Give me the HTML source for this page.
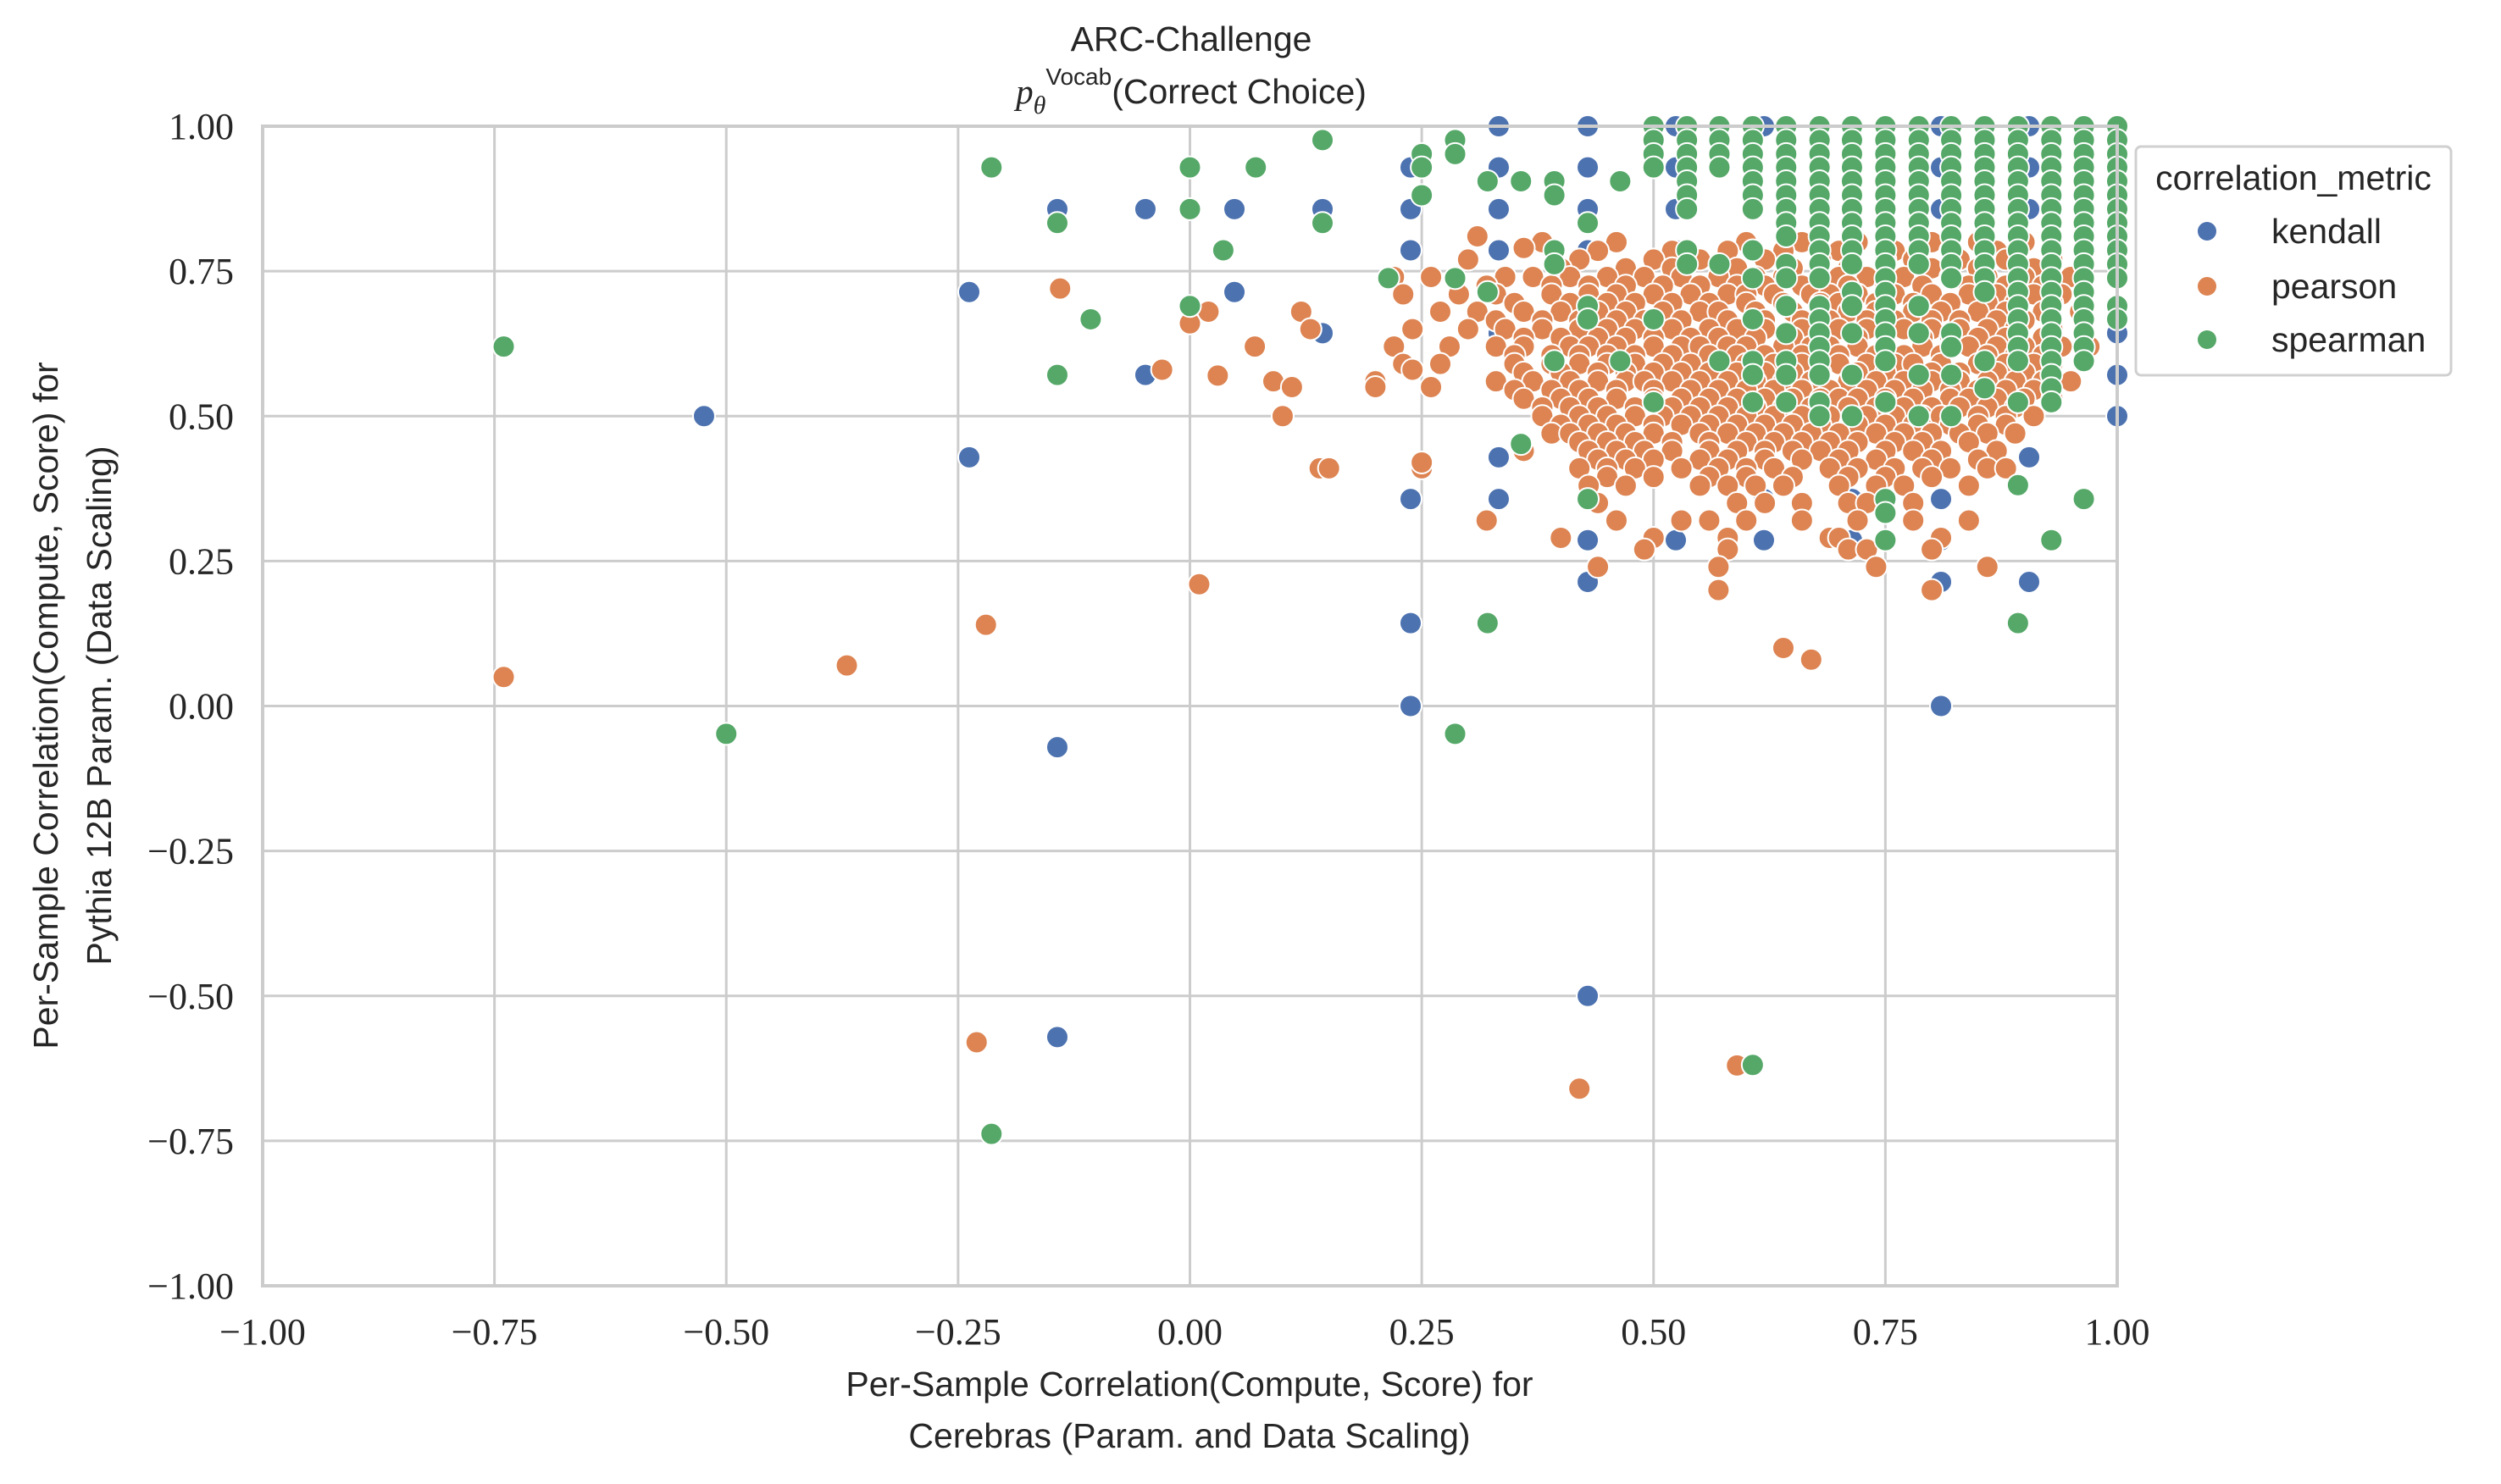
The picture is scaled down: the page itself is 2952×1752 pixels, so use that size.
<!DOCTYPE html>
<html><head><meta charset="utf-8">
<style>
html,body{margin:0;padding:0;background:#fff;}
svg{display:block;}
.tick{font-family:"Liberation Serif","DejaVu Serif",serif;font-size:44px;fill:#262626;}
.lab{font-family:"Liberation Sans","DejaVu Sans",sans-serif;font-size:41px;fill:#262626;}
</style></head>
<body>
<svg id="chart" width="2952" height="1752" viewBox="0 0 2952 1752" xmlns="http://www.w3.org/2000/svg">
<g id="grid"></g>
<g id="marks"></g>
<rect x="310" y="149" width="2189" height="1369" fill="none" stroke="#cccccc" stroke-width="4"/>
<g id="ticks"></g>
<text class="lab" x="1406" y="60" text-anchor="middle">ARC-Challenge</text>
<text class="lab" x="1406" y="122" text-anchor="middle"><tspan font-family="Liberation Serif,serif" font-style="italic">p</tspan><tspan font-family="Liberation Serif,serif" font-style="italic" font-size="30" dy="12">θ</tspan><tspan font-size="28" dy="-34">Vocab</tspan><tspan dy="22">(Correct Choice)</tspan></text>
<text class="lab" x="1404" y="1648" text-anchor="middle">Per-Sample Correlation(Compute, Score) for</text>
<text class="lab" x="1404" y="1709" text-anchor="middle">Cerebras (Param. and Data Scaling)</text>
<text class="lab" transform="translate(68,833) rotate(-90)" text-anchor="middle">Per-Sample Correlation(Compute, Score) for</text>
<text class="lab" transform="translate(131,833) rotate(-90)" text-anchor="middle">Pythia 12B Param. (Data Scaling)</text>
<g>
<rect x="2521" y="173" width="372" height="270" rx="6" fill="#fff" stroke="#d0d0d0" stroke-width="3"/>
<text class="lab" x="2707" y="224" text-anchor="middle">correlation_metric</text>
<circle cx="2605" cy="273" r="11" fill="#4c72b0"/>
<text class="lab" x="2681" y="287">kendall</text>
<circle cx="2605" cy="338" r="11" fill="#dd8452"/>
<text class="lab" x="2681" y="352">pearson</text>
<circle cx="2605" cy="401" r="11" fill="#55a868"/>
<text class="lab" x="2681" y="415">spearman</text>
</g>
</svg>
<script>
const xTicks=[-1,-0.75,-0.5,-0.25,0,0.25,0.5,0.75,1];
const yTicks=[-1,-0.75,-0.5,-0.25,0,0.25,0.5,0.75,1];
const kendallPts=[[-0.524,0.5],[-0.238,0.714],[-0.238,0.429],[-0.143,0.857],[-0.143,-0.071],[-0.143,-0.571],[-0.048,0.857],[-0.048,0.571],[0.048,0.857],[0.048,0.714],[0.143,0.857],[0.143,0.643],[0.238,0.929],[0.238,0.857],[0.238,0.786],[0.238,0.357],[0.238,0.143],[0.238,0],[0.333,1],[0.333,0.929],[0.333,0.857],[0.333,0.786],[0.333,0.643],[0.333,0.429],[0.333,0.357],[0.429,1],[0.429,0.929],[0.429,0.857],[0.429,0.786],[0.429,0.286],[0.429,0.214],[0.429,-0.5],[0.524,0.929],[0.524,0.857],[0.524,0.786],[0.524,0.286],[0.619,0.357],[0.619,0.286],[0.714,0.357],[0.714,0.286],[0.81,0.929],[0.81,0.857],[0.81,0.357],[0.81,0.214],[0.81,0.286],[0.81,0],[0.905,0.929],[0.905,0.857],[0.905,0.429],[0.905,0.214],[1,0.857],[1,0.786],[1,0.643],[1,0.571],[1,0.5],[0.714,1],[0.619,1],[0.905,1],[1,1],[0.524,1],[0.81,1]];
const pearsonLevels=[0.80,0.785,0.77,0.755,0.74,0.725,0.71,0.695,0.68,0.665,0.65,0.635,0.62,0.605,0.59,0.575,0.56,0.545,0.53,0.515,0.50,0.485,0.47,0.455,0.44,0.425,0.41,0.395,0.38,0.35,0.32,0.29,0.27,0.24];
const pearsonRowX=[
[0.38,0.46,0.6,0.66,0.72,0.8,0.85,0.9],
[0.44,0.52,0.58,0.64,0.7,0.76,0.82,0.87],
[0.3,0.42,0.5,0.55,0.62,0.68,0.75,0.78,0.83,0.88,0.93],
[0.4,0.47,0.52,0.59,0.65,0.71,0.8,0.85,0.91],
[0.22,0.26,0.34,0.37,0.41,0.45,0.49,0.53,0.57,0.61,0.64,0.7,0.73,0.77,0.82,0.86,0.9,0.95],
[0.32,0.39,0.43,0.47,0.51,0.55,0.59,0.62,0.66,0.71,0.75,0.79,0.84,0.88,0.92],
[0.23,0.29,0.33,0.39,0.43,0.46,0.5,0.54,0.58,0.6,0.63,0.67,0.69,0.72,0.76,0.8,0.84,0.87,0.91,0.94],
[0.35,0.41,0.45,0.48,0.52,0.56,0.6,0.64,0.68,0.7,0.74,0.78,0.82,0.86,0.89,0.93],
[0.12,0.27,0.31,0.36,0.4,0.44,0.47,0.51,0.55,0.57,0.61,0.65,0.68,0.71,0.74,0.78,0.81,0.85,0.88,0.92,0.96],
[0.33,0.38,0.42,0.46,0.49,0.53,0.58,0.62,0.66,0.69,0.73,0.76,0.8,0.83,0.87,0.9],
[0.13,0.24,0.3,0.34,0.38,0.42,0.45,0.48,0.52,0.56,0.59,0.62,0.66,0.7,0.73,0.77,0.8,0.83,0.86,0.89,0.93],
[0.36,0.4,0.44,0.47,0.5,0.54,0.57,0.61,0.65,0.68,0.72,0.75,0.79,0.82,0.85,0.88,0.92],
[0.22,0.28,0.33,0.36,0.41,0.43,0.46,0.5,0.53,0.55,0.58,0.6,0.64,0.67,0.69,0.72,0.75,0.79,0.82,0.84,0.87,0.9,0.94,0.97],
[0.35,0.39,0.42,0.45,0.48,0.52,0.56,0.59,0.62,0.66,0.7,0.74,0.77,0.81,0.86,0.89,0.92],
[0.23,0.27,0.35,0.39,0.42,0.45,0.48,0.51,0.54,0.57,0.6,0.63,0.66,0.7,0.73,0.76,0.78,0.81,0.85,0.88,0.91,0.93],
[0.36,0.4,0.44,0.47,0.5,0.53,0.56,0.59,0.62,0.65,0.68,0.72,0.75,0.8,0.83,0.87,0.9],
[0.09,0.2,0.33,0.37,0.41,0.44,0.47,0.49,0.52,0.55,0.58,0.61,0.64,0.67,0.71,0.74,0.77,0.8,0.83,0.86,0.89,0.92,0.95],
[0.35,0.39,0.42,0.46,0.5,0.54,0.57,0.6,0.63,0.66,0.69,0.73,0.76,0.79,0.82,0.85,0.88,0.91],
[0.36,0.4,0.43,0.46,0.5,0.53,0.56,0.59,0.62,0.65,0.68,0.7,0.72,0.75,0.78,0.82,0.84,0.87,0.9,0.93],
[0.38,0.41,0.44,0.48,0.52,0.55,0.58,0.61,0.64,0.67,0.71,0.74,0.77,0.8,0.83,0.86,0.89],
[0.1,0.38,0.42,0.45,0.48,0.51,0.54,0.57,0.6,0.63,0.66,0.69,0.73,0.76,0.79,0.81,0.85,0.88,0.91],
[0.4,0.43,0.46,0.5,0.53,0.56,0.59,0.62,0.65,0.68,0.72,0.75,0.78,0.82,0.85,0.88],
[0.39,0.41,0.44,0.47,0.5,0.55,0.58,0.61,0.64,0.67,0.7,0.74,0.77,0.8,0.83,0.86,0.89],
[0.42,0.45,0.48,0.52,0.56,0.6,0.63,0.66,0.69,0.72,0.76,0.79,0.84],
[0.36,0.43,0.46,0.49,0.52,0.56,0.59,0.62,0.65,0.68,0.71,0.75,0.78,0.81,0.87],
[0.44,0.47,0.5,0.55,0.58,0.62,0.66,0.7,0.74,0.8,0.85],
[0.14,0.25,0.42,0.45,0.48,0.53,0.57,0.6,0.63,0.69,0.72,0.76,0.79,0.82,0.86,0.88],
[0.45,0.5,0.56,0.6,0.65,0.71,0.75,0.8],
[0.43,0.47,0.55,0.58,0.61,0.64,0.7,0.74,0.77,0.84],
[0.44,0.59,0.62,0.66,0.71,0.73,0.78],
[0.32,0.46,0.53,0.56,0.6,0.66,0.72,0.78,0.84],
[0.4,0.5,0.58,0.69,0.7,0.81],
[0.49,0.58,0.71,0.73,0.8],
[0.44,0.57,0.74,0.86]];
const pearsonOutliers=[[-0.74,0.05],[-0.37,0.07],[-0.22,0.14],[-0.23,-0.58],[0.01,0.21],[0.42,-0.66],[0.59,-0.62],[0.64,0.1],[0.67,0.08],[0.57,0.2],[0.8,0.2],[-0.14,0.72],[-0.03,0.58],[0,0.66],[0.03,0.57],[0.07,0.62],[0.11,0.55],[0.15,0.41],[0.25,0.42],[0.24,0.58],[0.26,0.55],[0.02,0.68],[0.31,0.81],[0.36,0.79],[0.2,0.55]];
const spearmanPts=[[-0.74,0.62],[-0.5,-0.048],[-0.214,0.929],[-0.214,-0.738],[-0.143,0.833],[-0.143,0.571],[-0.107,0.667],[0,0.929],[0,0.857],[0,0.69],[0.036,0.786],[0.071,0.929],[0.143,0.976],[0.143,0.833],[0.214,0.738],[0.25,0.952],[0.25,0.929],[0.25,0.881],[0.286,0.976],[0.286,0.952],[0.286,0.738],[0.286,-0.048],[0.321,0.905],[0.321,0.714],[0.321,0.143],[0.357,0.905],[0.357,0.452],[0.393,0.905],[0.393,0.881],[0.393,0.786],[0.393,0.762],[0.393,0.595],[0.429,0.833],[0.429,0.69],[0.429,0.667],[0.429,0.357],[0.464,0.905],[0.464,0.595],[0.5,0.667],[0.5,0.524],[0.536,0.786],[0.536,0.762],[0.571,0.762],[0.571,0.595],[0.607,-0.619],[0.607,0.667],[0.607,0.524]];
const spearmanColX=[0.5,0.536,0.571,0.607,0.643,0.679,0.714,0.75,0.786,0.821,0.857,0.893,0.929,0.964,1.0];
const spearmanColY=[
[1,0.976,0.952,0.929],
[1,0.976,0.952,0.929,0.905,0.881,0.857],
[1,0.976,0.952,0.929],
[1,0.976,0.952,0.929,0.905,0.881,0.857,0.786,0.738,0.595,0.571],
[1,0.976,0.952,0.929,0.905,0.881,0.857,0.833,0.81,0.762,0.738,0.69,0.643,0.595,0.571,0.524],
[1,0.976,0.952,0.929,0.905,0.881,0.857,0.833,0.81,0.786,0.762,0.738,0.69,0.667,0.643,0.619,0.595,0.571,0.524,0.5],
[1,0.976,0.952,0.929,0.905,0.881,0.857,0.833,0.81,0.786,0.762,0.714,0.69,0.643,0.571,0.5],
[1,0.976,0.952,0.929,0.905,0.881,0.857,0.833,0.81,0.786,0.762,0.738,0.714,0.69,0.667,0.643,0.619,0.595,0.524,0.357,0.333,0.286],
[1,0.976,0.952,0.929,0.905,0.881,0.857,0.833,0.81,0.786,0.762,0.69,0.643,0.571,0.5],
[1,0.976,0.952,0.929,0.905,0.881,0.857,0.833,0.81,0.786,0.762,0.738,0.643,0.619,0.571,0.5],
[1,0.976,0.952,0.929,0.905,0.881,0.857,0.833,0.81,0.786,0.762,0.738,0.714,0.595,0.548],
[1,0.976,0.952,0.929,0.905,0.881,0.857,0.833,0.81,0.786,0.762,0.738,0.714,0.69,0.667,0.643,0.619,0.595,0.524,0.381,0.143],
[1,0.976,0.952,0.929,0.905,0.881,0.857,0.833,0.81,0.786,0.762,0.738,0.714,0.69,0.667,0.643,0.619,0.595,0.571,0.548,0.524,0.286],
[1,0.976,0.952,0.929,0.905,0.881,0.857,0.833,0.81,0.786,0.762,0.738,0.714,0.69,0.667,0.643,0.619,0.595,0.357],
[1,0.976,0.952,0.929,0.905,0.881,0.857,0.833,0.81,0.786,0.762,0.738,0.69,0.667]];

const X0=310,X1=2499,Y0=149,Y1=1518;
function sx(v){return X0+(v+1)/2*(X1-X0);}
function sy(v){return Y1-(v+1)/2*(Y1-Y0);}
const NS='http://www.w3.org/2000/svg';
const grid=document.getElementById('grid'),ticks=document.getElementById('ticks'),marks=document.getElementById('marks');
xTicks.forEach(t=>{
  const l=document.createElementNS(NS,'line');
  
  
  l.setAttribute('x1',sx(t));l.setAttribute('x2',sx(t));l.setAttribute('y1',Y0);l.setAttribute('y2',Y1);
  l.setAttribute('stroke','#cccccc');l.setAttribute('stroke-width','3');
  grid.appendChild(l);
  const tx=document.createElementNS(NS,'text');
  
  
  tx.setAttribute('class','tick');tx.setAttribute('x',sx(t));tx.setAttribute('y',1587);tx.setAttribute('text-anchor','middle');
  tx.textContent=(t<0?'\u2212':'')+Math.abs(t).toFixed(2);
  ticks.appendChild(tx);
});
yTicks.forEach(t=>{
  const l=document.createElementNS(NS,'line');
  
  
  l.setAttribute('x1',X0);l.setAttribute('x2',X1);l.setAttribute('y1',sy(t));l.setAttribute('y2',sy(t));
  l.setAttribute('stroke','#cccccc');l.setAttribute('stroke-width','3');
  grid.appendChild(l);
  const tx=document.createElementNS(NS,'text');
  
  
  tx.setAttribute('class','tick');tx.setAttribute('x',276);tx.setAttribute('y',sy(t)+15);tx.setAttribute('text-anchor','end');
  tx.textContent=(t<0?'\u2212':'')+Math.abs(t).toFixed(2);
  ticks.appendChild(tx);
});
function dot(x,y,color,name){
  const c=document.createElementNS(NS,'circle');
  
  
  c.setAttribute('cx',sx(x));c.setAttribute('cy',sy(y));c.setAttribute('r',13);
  c.setAttribute('fill',color);c.setAttribute('stroke','#fff');c.setAttribute('stroke-width','2');
  marks.appendChild(c);
}
kendallPts.forEach(p=>dot(p[0],p[1],'#4c72b0','point-kendall'));
pearsonLevels.forEach((y,i)=>pearsonRowX[i].forEach(x=>dot(x,y,'#dd8452','point-pearson')));
pearsonOutliers.forEach(p=>dot(p[0],p[1],'#dd8452','point-pearson'));
spearmanPts.forEach(p=>dot(p[0],p[1],'#55a868','point-spearman'));
spearmanColX.forEach((x,i)=>spearmanColY[i].forEach(y=>dot(x,y,'#55a868','point-spearman')));
</script>
</body></html>
